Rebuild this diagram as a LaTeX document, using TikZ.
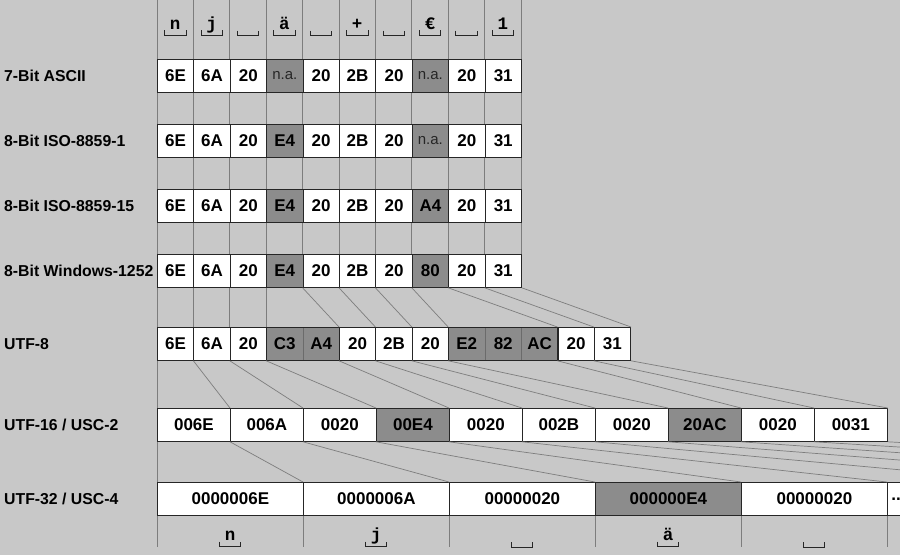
\documentclass[tikz,border=0pt]{standalone}
\usepackage{fontspec}
\setmainfont{Liberation Sans}
\setmonofont{Liberation Mono}
\usepackage{xcolor}
\usepackage{tikz}

\definecolor{bg}{RGB}{200,200,200}
\definecolor{dark}{RGB}{140,140,140}
\definecolor{rule}{RGB}{125,125,125}

\tikzset{
	cell/.style={draw=black!85, fill=white, line width=0.8pt, inner sep=0pt, minimum height=33pt, anchor=north west, font=\bfseries\fontsize{17}{19}\selectfont},
	byte/.style={cell, minimum width=36.4pt},
	word/.style={cell, minimum width=73pt},
	dword/.style={cell, minimum width=146pt},
	hi/.style={fill=dark},
	multi/.style={hi, draw=black!58},
	na/.style={hi, font=\fontsize{15}{17}\selectfont, text=black!85},
	rowlabel/.style={anchor=base west, inner sep=0pt, font=\bfseries\fontsize{15.8}{18}\selectfont},
	glyph/.style={anchor=base, inner sep=0pt, text depth=0pt, minimum width=21pt, font=\ttfamily\bfseries\fontsize{17.5}{18}\selectfont},
	bracket/.style={draw=black!85, line width=0.8pt},
	grid/.style={draw=rule, line width=0.8pt},
	link/.style={draw=rule, line width=0.7pt},
}

\begin{document}
\begin{tikzpicture}[x=1pt, y=-1pt]
		\clip (0,0) rectangle (900,555);
		\fill[bg] (0,0) rectangle (900,555);

		% grid under the single byte rows and under utf-32
		\foreach \k in {0,...,10}
			\draw[grid] ({157+36.4*\k},0) -- ({157+36.4*\k},254);
		\foreach \k in {0,...,5}
			\draw[grid] ({157+146*\k},514) -- ({157+146*\k},547);

		% characters
		\foreach \c [count=\k] in {n,j,{},\"a,{},+,{},€,{},1} {
			\node[glyph] (t\k) at ({157+36.4*(\k-0.5)},29) {\c};
			\draw[bracket] ([yshift=-1pt]t\k.south west) |- ([yshift=-6pt]t\k.south) -| ([yshift=-1pt]t\k.south east);
		}
		\foreach \c [count=\k] in {n,j,{},\"a,{}} {
			\node[glyph] (g\k) at ({157+146*(\k-0.5)},540.5) {\c};
			\draw[bracket] ([yshift=-1pt]g\k.south west) |- ([yshift=-6pt]g\k.south) -| ([yshift=-1pt]g\k.south east);
		}

		% row labels
		\node[rowlabel] (lascii) at (4,81) {7-Bit ASCII};
		\node[rowlabel] (liso1) at (4,146) {8-Bit ISO-8859-1};
		\node[rowlabel] (liso15) at (4,211) {8-Bit ISO-8859-15};
		\node[rowlabel] (lwin) at (4,276) {8-Bit Windows-1252};
		\node[rowlabel] (lutf8) at (4,349) {UTF-8};
		\node[rowlabel] (lutf16) at (4,430) {UTF-16 / USC-2};
		\node[rowlabel] (lutf32) at (4,504) {UTF-32 / USC-4};

		% single byte codes
		\foreach \v/\s [count=\k] in {6E/,6A/,20/,n.a./na,20/,2B/,20/,n.a./na,20/,31/}
			\node[byte,\s] (a\k) at ({157+36.4*(\k-1)},59) {\v};
		\foreach \v/\s [count=\k] in {6E/,6A/,20/,E4/hi,20/,2B/,20/,n.a./na,20/,31/}
			\node[byte,\s] (b\k) at ({157+36.4*(\k-1)},124) {\v};
		\foreach \v/\s [count=\k] in {6E/,6A/,20/,E4/hi,20/,2B/,20/,A4/hi,20/,31/}
			\node[byte,\s] (c\k) at ({157+36.4*(\k-1)},189) {\v};
		\foreach \v/\s [count=\k] in {6E/,6A/,20/,E4/hi,20/,2B/,20/,80/hi,20/,31/}
			\node[byte,\s] (d\k) at ({157+36.4*(\k-1)},254) {\v};

		% utf-8
		\foreach \v/\s [count=\k] in {6E/,6A/,20/,C3/multi,A4/multi,20/,2B/,20/,E2/multi,82/multi,AC/multi,20/,31/}
			\node[byte,\s] (u\k) at ({157+36.4*(\k-1)},327) {\v};
		\draw[draw=black!85, line width=0.8pt] (u4.north west) rectangle (u5.south east);
		\draw[draw=black!85, line width=0.8pt] (u9.north west) rectangle (u11.south east);

		% utf-16
		\foreach \v/\s [count=\k] in {006E/,006A/,0020/,00E4/hi,0020/,002B/,0020/,20AC/hi,0020/,0031/}
			\node[word,\s] (v\k) at ({157+73*(\k-1)},408) {\v};

		% utf-32
		\foreach \v/\s [count=\k] in {0000006E/,0000006A/,00000020/,000000E4/hi,00000020/}
			\node[dword,\s] (w\k) at ({157+146*(\k-1)},482) {\v};
		\node[cell, minimum width=22pt] (w6) at (887,482) {...};
		\foreach \k in {7,...,11}
			\coordinate (z\k) at ({157+146*(\k-1)},482);

		% connectors
		\foreach \k/\m in {1/1,2/2,3/3,4/4,5/6,6/7,7/8,8/9,9/12,10/13} {
			\draw[link] (d\k.south west) -- (u\m.north west);
			\draw[link] (u\m.south west) -- (v\k.north west);
		}
		\draw[link] (d10.south east) -- (u13.north east);
		\draw[link] (u13.south east) -- (v10.north east);

		\foreach \k in {1,...,6}
			\draw[link] (v\k.south west) -- (w\k.north west);
		\foreach \k in {7,...,10}
			\draw[link] (v\k.south west) -- (z\k);
		\draw[link] (v10.south east) -- (z11);
	\end{tikzpicture}
\end{document}
